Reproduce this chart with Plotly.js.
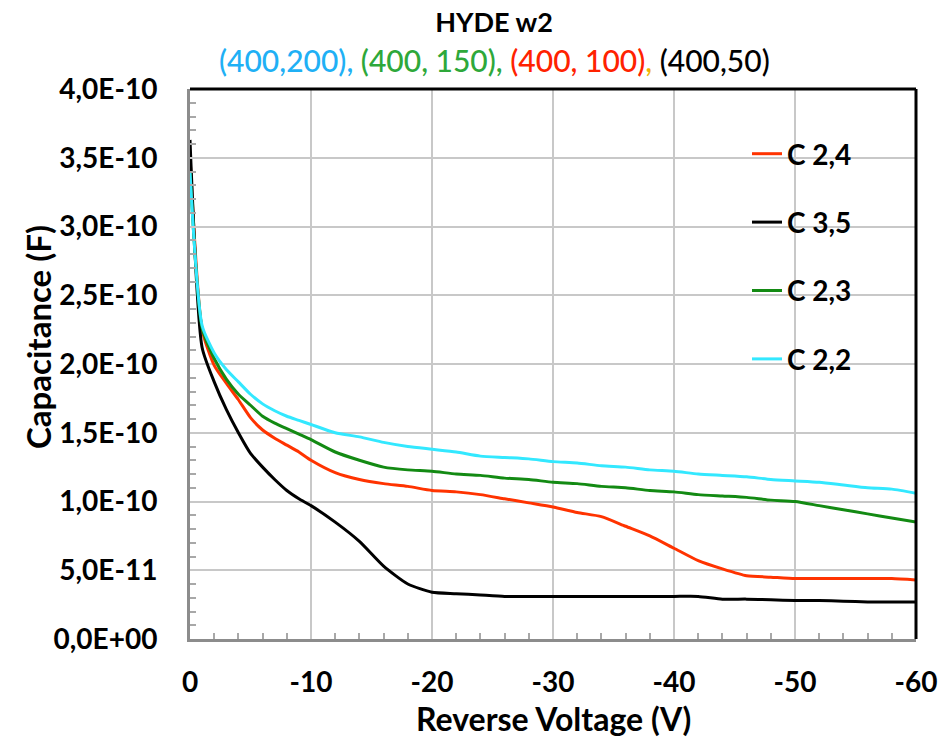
<!DOCTYPE html>
<html>
<head>
<meta charset="utf-8">
<script src="https://cdn.plot.ly/plotly-3.0.1.min.js"></script>
<style>html,body{margin:0;padding:0;background:#fff}#chart{width:947px;height:737px}</style>
</head>
<body>
<div id="chart"></div>
<script>
// Reverse voltage (V)
const voltage = [0,-1,-2,-3,-4,-5,-6,-7,-8,-9,-10,-12,-14,-16,-18,-20,-22,-24,-26,-28,-30,-32,-34,-36,-38,-40,-42,-44,-46,-48,-50,-52,-54,-56,-58,-60];
// Capacitance in units of 1E-10 F
const UNIT = 1e-10;
const c24 = [3.51,2.25,1.99,1.86,1.74,1.61,1.52,1.46,1.41,1.36,1.30,1.21,1.16,1.13,1.11,1.08,1.07,1.05,1.02,0.99,0.96,0.92,0.89,0.82,0.75,0.66,0.57,0.51,0.46,0.45,0.44,0.44,0.44,0.44,0.44,0.43];
const c35 = [3.63,2.12,1.87,1.67,1.50,1.35,1.25,1.16,1.08,1.02,0.97,0.85,0.71,0.53,0.40,0.34,0.33,0.32,0.31,0.31,0.31,0.31,0.31,0.31,0.31,0.31,0.31,0.29,0.29,0.285,0.28,0.28,0.275,0.27,0.27,0.27];
const c23 = [3.40,2.26,2.04,1.89,1.78,1.70,1.62,1.57,1.53,1.49,1.45,1.36,1.30,1.25,1.23,1.22,1.20,1.19,1.17,1.16,1.14,1.13,1.11,1.10,1.08,1.07,1.05,1.04,1.03,1.01,1.00,0.97,0.94,0.91,0.88,0.85];
const c22 = [3.39,2.28,2.08,1.96,1.87,1.78,1.71,1.66,1.62,1.59,1.56,1.50,1.47,1.43,1.40,1.38,1.36,1.33,1.32,1.31,1.29,1.28,1.26,1.25,1.23,1.22,1.20,1.19,1.18,1.16,1.15,1.14,1.12,1.10,1.09,1.06];

const seriesNames = ["C 2,4","C 3,5","C 2,3","C 2,2"];
const seriesColors = ["#ff3300","#000000","#138a13","#33e8ff"];
const seriesValues = [c24,c35,c23,c22];

const xTickVals = [0,-10,-20,-30,-40,-50,-60];
const xTickText = ["0","-10","-20","-30","-40","-50","-60"];
const yTickUnits = [0,0.5,1,1.5,2,2.5,3,3.5,4];
const yTickText = ["0,0E+00","5,0E-11","1,0E-10","1,5E-10","2,0E-10","2,5E-10","3,0E-10","3,5E-10","4,0E-10"];

const titleText = "<b>HYDE w2</b>";
const subtitleParts = [
  ["(400,200),", "#1fb0f5"],
  [" (400, 150),", "#2ea83a"],
  [" (400, 100)", "#ff2200"],
  [",", "#f0b400"],
  [" (400,50)", "#000000"]
];
const xTitle = "<b>Reverse Voltage (V)</b>";
const yTitle = "<b>Capacitance (F)</b>";

const FONT = "Lato, 'Open Sans', sans-serif";

const traces = seriesValues.map((vals, i) => ({
  type: "scatter",
  mode: "lines",
  name: seriesNames[i],
  legendgroup: "g" + i,
  x: voltage,
  y: vals.map(v => v * UNIT),
  line: {color: seriesColors[i], width: 3, shape: "spline", smoothing: 0.6}
}));

const subtitleHtml = subtitleParts.map(p => `<span style="color:${p[1]}">${p[0]}</span>`).join("");

const layout = {
  width: 947, height: 737,
  paper_bgcolor: "#ffffff", plot_bgcolor: "#ffffff",
  margin: {l: 190, r: 31, t: 89, b: 98},
  font: {family: FONT, color: "#000", size: 28},
  title: {
    text: titleText,
    font: {family: FONT, size: 27, color: "#000"},
    x: 494/947, xanchor: "center", xref: "container",
    y: 1 - 23/737, yanchor: "middle", yref: "container"
  },
  annotations: [
    {
      text: subtitleHtml, xref: "paper", yref: "paper",
      x: (494-190)/726, y: (639-60)/550, xanchor: "center", yanchor: "middle",
      showarrow: false, font: {family: FONT, size: 30, weight: 500}
    },
    {
      text: yTitle, xref: "paper", yref: "paper", textangle: -90,
      x: (38-190)/726, y: (639-337)/550, xanchor: "center", yanchor: "middle",
      showarrow: false, font: {family: FONT, size: 33}
    },
    {
      text: xTitle, xref: "paper", yref: "paper",
      x: 0.5, y: (639-718)/550, xanchor: "center", yanchor: "middle",
      showarrow: false, font: {family: FONT, size: 32}
    }
  ],
  showlegend: true,
  legend: {
    x: (747-190)/726, y: (639-129)/550, xanchor: "left", yanchor: "top",
    bgcolor: "rgba(0,0,0,0)", tracegroupgap: 29, traceorder: "grouped",
    font: {family: FONT, size: 28, color: "#000", weight: "bold"},
    itemwidth: 30
  },
  xaxis: {
    range: [0, -60], autorange: false,
    tickmode: "array", tickvals: xTickVals, ticktext: xTickText,
    tickfont: {family: FONT, size: 28, weight: "bold"},
    ticks: "inside", ticklen: 6, tickcolor: "#c8c8c8", tickwidth: 2,
    ticklabelstandoff: 16,
    showgrid: true, gridcolor: "#c8c8c8", gridwidth: 2,
    showline: true, linecolor: "#8c8c8c", linewidth: 3,
    zeroline: false,
    minor: {tickmode: "linear", tick0: 0, dtick: 2, ticks: "inside", ticklen: 6, tickcolor: "#a8a8a8", tickwidth: 2, showgrid: false}
  },
  yaxis: {
    range: [0, 4 * UNIT], autorange: false,
    tickmode: "array", tickvals: yTickUnits.map(v => v * UNIT), ticktext: yTickText,
    tickfont: {family: FONT, size: 28, weight: "bold"},
    ticks: "inside", ticklen: 6, tickcolor: "#c8c8c8", tickwidth: 2,
    ticklabelstandoff: 24,
    showgrid: true, gridcolor: "#c8c8c8", gridwidth: 2,
    showline: true, linecolor: "#8c8c8c", linewidth: 3,
    zeroline: false,
    minor: {tickmode: "linear", tick0: 0, dtick: 0.1 * UNIT, ticks: "inside", ticklen: 6, tickcolor: "#a8a8a8", tickwidth: 2, showgrid: false}
  },
  shapes: [
    {type: "line", xref: "paper", yref: "paper", x0: 0, x1: 1, y0: 1, y1: 1, line: {color: "#000", width: 3}},
    {type: "line", xref: "paper", yref: "paper", x0: 1, x1: 1, y0: 0, y1: 1, line: {color: "#000", width: 3}}
  ]
};

Plotly.newPlot("chart", traces, layout, {displayModeBar: false, staticPlot: true});
</script>
</body>
</html>
